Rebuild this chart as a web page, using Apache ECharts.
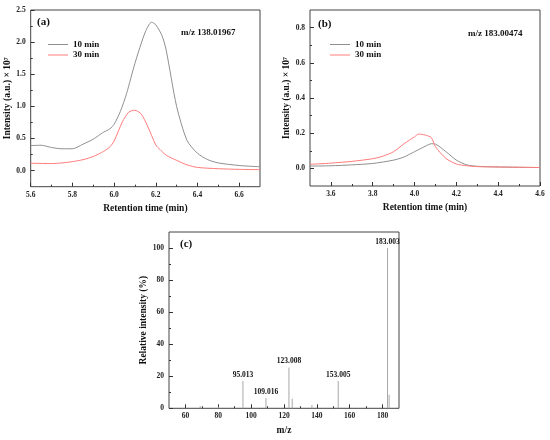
<!DOCTYPE html>
<html><head><meta charset="utf-8">
<script src="https://cdn.jsdelivr.net/npm/echarts@6/dist/echarts.min.js"></script>
<style>html,body{margin:0;padding:0;background:#fff}#c{width:550px;height:440px}</style>
</head><body><div id="c"></div>
<script>
// Panel (a): m/z 138.01967
const timeA10 = [5.6,5.65,5.7,5.75,5.8,5.85,5.9,5.95,5.98,6.0,6.03,6.06,6.1,6.15,6.18,6.2,6.23,6.25,6.3,6.35,6.4,6.45,6.5,6.6,6.7];
const intA10 = [0.39,0.395,0.36,0.34,0.34,0.41,0.49,0.6,0.65,0.72,0.92,1.2,1.67,2.16,2.31,2.27,2.1,1.875,1.0,0.47,0.27,0.17,0.12,0.08,0.06];
const timeA30 = [5.6,5.7,5.75,5.8,5.85,5.9,5.95,5.98,6.0,6.04,6.07,6.1,6.13,6.16,6.2,6.22,6.25,6.3,6.35,6.4,6.5,6.6,6.7];
const intA30 = [0.115,0.11,0.12,0.14,0.17,0.22,0.30,0.37,0.46,0.76,0.91,0.94,0.88,0.7,0.40,0.33,0.24,0.16,0.09,0.05,0.03,0.02,0.015];
// Panel (b): m/z 183.00474
const timeB10 = [3.5,3.6,3.7,3.8,3.9,3.95,4.0,4.05,4.08,4.1,4.15,4.2,4.25,4.3,4.4,4.6];
const intB10 = [0.013,0.015,0.02,0.028,0.047,0.065,0.095,0.125,0.14,0.138,0.095,0.047,0.02,0.012,0.008,0.005];
const timeB30 = [3.5,3.6,3.7,3.8,3.85,3.9,3.95,4.0,4.02,4.05,4.08,4.1,4.15,4.2,4.25,4.3,4.4,4.6];
const intB30 = [0.023,0.03,0.04,0.055,0.07,0.095,0.14,0.18,0.195,0.19,0.175,0.123,0.057,0.025,0.015,0.01,0.008,0.005];
// Panel (c): MS/MS spectrum
const mzValues = [69,80,95.013,109.016,123.008,125,137,153.005,183.003,184];
const relIntensity = [1.5,1,17,6.5,25.5,6,2,17,100,8.5];
const peakLabels = ['','','95.013','109.016','123.008','','','153.005','183.003',''];
// Tick labels
const ticksAx = [5.6,5.8,6.0,6.2,6.4,6.6], minorAx = [5.7,5.9,6.1,6.3,6.5];
const ticksAy = [0,0.5,1.0,1.5,2.0,2.5], minorAy = [0.25,0.75,1.25,1.75,2.25];
const ticksBx = [3.6,3.8,4.0,4.2,4.4,4.6], minorBx = [3.7,3.9,4.1,4.3,4.5];
const ticksBy = [0,0.2,0.4,0.6,0.8], minorBy = [0.1,0.3,0.5,0.7];
const ticksCx = [60,80,100,120,140,160,180], minorCx = [70,90,110,130,150,170];
const ticksCy = [0,20,40,60,80,100], minorCy = [10,30,50,70,90];
const seriesNames = ['10 min','30 min'];

const FONT = 'Liberation Serif';
const zip = (xs, ys) => xs.map((x,i)=>[x,ys[i]]);

function mkAxis(type, gi, min, max, ticks, minor, fmt, name, nameGap) {
  const major = {
    type:'value', gridIndex:gi, min, max, position: type==='x'?'bottom':'left',
    axisLine:{show:false, onZero:false}, splitLine:{show:false},
    axisTick:{show:true, inside:true, length:4, customValues:ticks, lineStyle:{color:'#333',width:1}},
    axisLabel:{customValues:ticks, formatter:fmt, fontFamily:FONT, fontWeight:'bold', fontSize:7.5, color:'#222', margin: type==='x'?4:5},
    name, nameLocation:'middle', nameGap,
    nameTextStyle:{fontFamily:FONT, fontWeight:'bold', fontSize:9.5, color:'#111'}
  };
  const mn = {
    type:'value', gridIndex:gi, min, max, position: type==='x'?'bottom':'left',
    axisLine:{show:false, onZero:false}, splitLine:{show:false},
    axisTick:{show:true, inside:true, length:2, customValues:minor, lineStyle:{color:'#333',width:1}},
    axisLabel:{show:false}
  };
  return [major, mn];
}
const f1 = v => v.toFixed(1);
const f0 = v => String(v);

const xAxes = [
  ...mkAxis('x',0,5.6,6.7,ticksAx,minorAx,f1,'Retention time (min)',17),
  ...mkAxis('x',1,3.5,4.6,ticksBx,minorBx,f1,'Retention time (min)',17),
  ...mkAxis('x',2,50,190,ticksCx,minorCx,f0,'m/z',17)
];
const yAxes = [
  ...mkAxis('y',0,-0.25,2.5,ticksAy,minorAy,f1,'Intensity (a.u.) × 10⁷',14),
  ...mkAxis('y',1,-0.1,0.9,ticksBy,minorBy,f1,'Intensity (a.u.) × 10⁷',14),
  ...mkAxis('y',2,0,110,ticksCy,minorCy,f0,'Relative intensity (%)',15)
];
yAxes.forEach(a=>{a.nameRotate=90;});

const GRAY = '#8f8f8f', RED = '#ff7b7b';
const lineS = (name, xi, data, color) => ({
  type:'line', name, xAxisIndex:xi, yAxisIndex:xi, data, symbol:'none', smooth:0.25,
  lineStyle:{color, width:1}, itemStyle:{color}, silent:true, animation:false
});

const barData = mzValues.map((m,i)=>({
  value:[m, relIntensity[i]],
  label:{show: peakLabels[i]!=='', formatter: peakLabels[i]}
}));

const legendBase = {
  orient:'vertical', itemWidth:20, itemHeight:8, itemGap:1.5, icon:'path://M0,0L20,0L20,1L0,1Z',
  textStyle:{fontFamily:FONT, fontWeight:'bold', fontSize:9, color:'#111'}, data:seriesNames, selectedMode:false
};

const txt = (left, top, text, size) => ({
  type:'text', left, top, style:{text, fontFamily:FONT, fontWeight:'bold', fontSize:size, fill:'#111'}
});

const option = {
  animation:false,
  grid:[
    {left:30.7, top:10, width:229.3, height:176.7, show:true, borderColor:'#444', borderWidth:1, backgroundColor:'transparent'},
    {left:310, top:10, width:230, height:176, show:true, borderColor:'#444', borderWidth:1, backgroundColor:'transparent'},
    {left:169, top:232, width:230, height:176.3, show:true, borderColor:'#444', borderWidth:1, backgroundColor:'transparent'}
  ],
  xAxis: xAxes, yAxis: yAxes,
  legend:[
    Object.assign({left:43, top:35}, legendBase),
    Object.assign({left:325, top:35}, legendBase)
  ],
  series:[
    lineS(seriesNames[0],0,zip(timeA10,intA10),GRAY),
    lineS(seriesNames[1],0,zip(timeA30,intA30),RED),
    lineS(seriesNames[0],2,zip(timeB10,intB10),GRAY),
    lineS(seriesNames[1],2,zip(timeB30,intB30),RED),
    {type:'bar', name:'spectrum', xAxisIndex:4, yAxisIndex:4, data:barData, barWidth:1,
     itemStyle:{color:'#a8a8a8'}, silent:true,
     label:{position:'top', distance:2, fontFamily:FONT, fontWeight:'bold', fontSize:7.5, color:'#111'}}
  ],
  graphic:[
    txt(37, 17, '(a)', 11),
    txt(181, 28, 'm/z 138.01967', 9),
    txt(318, 19, '(b)', 11),
    txt(468, 29, 'm/z 183.00474', 9),
    txt(180, 239, '(c)', 11)
  ]
};
const chart = echarts.init(document.getElementById('c'), null, {renderer:'canvas'});
chart.setOption(option);
</script></body></html>
